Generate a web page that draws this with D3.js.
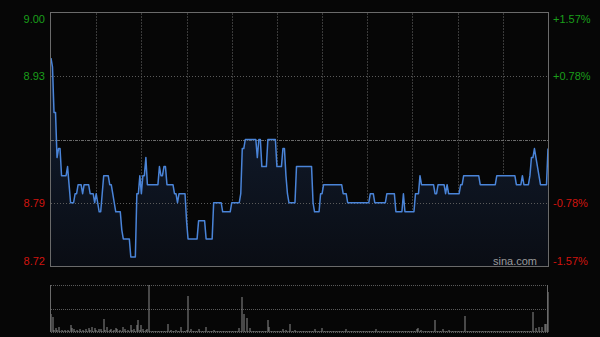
<!DOCTYPE html>
<html>
<head>
<meta charset="utf-8">
<script src="https://cdn.jsdelivr.net/npm/d3@7"></script>
<style>
	html, body { margin: 0; padding: 0; background: #060606; }
	svg { display: block; }
	text { font-family: Arial, "Liberation Sans", sans-serif; font-size: 11px; }
</style>
</head>
<body>
<svg id="chart" width="600" height="337"></svg>
<script>
// minute prices, 9:30 - 16:00 (331 points)
var prices = [
	8.95, 8.94, 8.89, 8.89, 8.84, 8.85, 8.85, 8.82, 8.82, 8.82,
	8.82, 8.83, 8.81, 8.79, 8.79, 8.79, 8.80, 8.80, 8.81, 8.81,
	8.81, 8.80, 8.81, 8.81, 8.81, 8.81, 8.80, 8.80, 8.80, 8.79,
	8.80, 8.79, 8.78, 8.78, 8.80, 8.82, 8.82, 8.82, 8.82, 8.81,
	8.81, 8.80, 8.79, 8.78, 8.78, 8.78, 8.78, 8.76, 8.75, 8.75,
	8.75, 8.75, 8.75, 8.73, 8.73, 8.73, 8.73, 8.80, 8.80, 8.82,
	8.80, 8.82, 8.82, 8.84, 8.81, 8.81, 8.81, 8.81, 8.81, 8.81,
	8.81, 8.81, 8.83, 8.82, 8.82, 8.83, 8.83, 8.81, 8.81, 8.81,
	8.81, 8.81, 8.80, 8.80, 8.79, 8.80, 8.80, 8.80, 8.80, 8.80,
	8.77, 8.75, 8.75, 8.75, 8.75, 8.75, 8.75, 8.75, 8.77, 8.77,
	8.77, 8.77, 8.77, 8.75, 8.75, 8.75, 8.75, 8.75, 8.79, 8.79,
	8.79, 8.79, 8.79, 8.79, 8.78, 8.78, 8.78, 8.78, 8.78, 8.78,
	8.79, 8.79, 8.79, 8.79, 8.79, 8.79, 8.80, 8.85, 8.85, 8.86,
	8.86, 8.86, 8.86, 8.86, 8.86, 8.86, 8.86, 8.84, 8.86, 8.86,
	8.83, 8.83, 8.83, 8.83, 8.86, 8.86, 8.86, 8.86, 8.86, 8.86,
	8.83, 8.83, 8.83, 8.83, 8.85, 8.85, 8.82, 8.80, 8.79, 8.79,
	8.79, 8.79, 8.79, 8.83, 8.83, 8.83, 8.83, 8.83, 8.83, 8.83,
	8.83, 8.83, 8.83, 8.83, 8.79, 8.78, 8.78, 8.78, 8.78, 8.80,
	8.80, 8.81, 8.81, 8.81, 8.81, 8.81, 8.81, 8.81, 8.81, 8.81,
	8.81, 8.81, 8.81, 8.81, 8.80, 8.80, 8.80, 8.79, 8.79, 8.79,
	8.79, 8.79, 8.79, 8.79, 8.79, 8.79, 8.79, 8.79, 8.79, 8.79,
	8.79, 8.79, 8.80, 8.80, 8.80, 8.79, 8.79, 8.79, 8.79, 8.79,
	8.79, 8.79, 8.79, 8.80, 8.80, 8.80, 8.80, 8.80, 8.80, 8.78,
	8.78, 8.78, 8.78, 8.78, 8.80, 8.78, 8.78, 8.78, 8.78, 8.78,
	8.78, 8.78, 8.80, 8.80, 8.80, 8.82, 8.81, 8.81, 8.81, 8.81,
	8.81, 8.81, 8.81, 8.81, 8.81, 8.80, 8.80, 8.81, 8.81, 8.81,
	8.81, 8.81, 8.80, 8.81, 8.80, 8.80, 8.80, 8.80, 8.80, 8.80,
	8.80, 8.80, 8.81, 8.81, 8.82, 8.82, 8.82, 8.82, 8.82, 8.82,
	8.82, 8.82, 8.82, 8.82, 8.82, 8.81, 8.81, 8.81, 8.81, 8.81,
	8.81, 8.81, 8.81, 8.81, 8.81, 8.81, 8.82, 8.82, 8.82, 8.82,
	8.82, 8.82, 8.82, 8.82, 8.82, 8.82, 8.82, 8.82, 8.82, 8.81,
	8.81, 8.81, 8.81, 8.82, 8.81, 8.81, 8.81, 8.81, 8.82, 8.84,
	8.84, 8.85, 8.84, 8.83, 8.82, 8.81, 8.81, 8.81, 8.81, 8.81,
	8.85
];

// minute volumes (relative)
var volumes = [
	18, 15, 2, 4, 2, 5, 1, 2, 1, 2,
	1, 2, 1, 7, 4, 3, 1, 2, 1, 3,
	1, 2, 1, 3, 1, 4, 2, 5, 1, 4,
	2, 1, 3, 3, 1, 13, 2, 5, 1, 2,
	3, 1, 2, 4, 3, 1, 2, 1, 5, 3,
	1, 2, 1, 7, 2, 3, 1, 7, 12, 2,
	7, 3, 1, 2, 3, 47, 1, 1, 1, 1,
	1, 1, 1, 1, 1, 1, 1, 1, 8, 1,
	2, 1, 1, 2, 1, 1, 5, 1, 1, 1,
	2, 36, 1, 3, 1, 1, 1, 1, 3, 1,
	1, 1, 1, 5, 1, 1, 1, 1, 2, 1,
	1, 1, 1, 1, 1, 1, 1, 1, 1, 1,
	1, 1, 1, 1, 1, 4, 1, 35, 18, 1,
	14, 1, 4, 1, 1, 1, 1, 1, 1, 1,
	1, 1, 1, 1, 12, 5, 1, 1, 1, 1,
	1, 1, 1, 1, 3, 1, 2, 1, 1, 8,
	1, 1, 2, 1, 1, 1, 1, 1, 1, 1,
	1, 1, 1, 1, 1, 3, 1, 1, 1, 1,
	4, 1, 1, 1, 1, 1, 1, 1, 1, 1,
	1, 1, 1, 1, 1, 1, 3, 1, 1, 1,
	1, 1, 1, 1, 1, 1, 1, 1, 1, 1,
	1, 1, 1, 1, 1, 1, 3, 1, 1, 1,
	1, 1, 1, 1, 1, 1, 1, 1, 1, 1,
	1, 1, 1, 1, 1, 1, 1, 1, 1, 1,
	1, 1, 1, 3, 4, 1, 2, 1, 1, 1,
	1, 1, 1, 1, 1, 12, 1, 1, 1, 1,
	3, 1, 1, 1, 2, 1, 1, 1, 1, 1,
	1, 1, 1, 1, 1, 16, 1, 1, 1, 1,
	1, 1, 1, 1, 1, 1, 1, 1, 1, 1,
	1, 1, 1, 1, 1, 1, 1, 1, 1, 1,
	1, 1, 1, 1, 1, 1, 1, 1, 1, 1,
	1, 1, 1, 1, 1, 1, 1, 1, 1, 1,
	20, 1, 4, 1, 5, 1, 5, 1, 8, 8,
	40
];

var prevClose = 8.86;
var priceTicks = [9.00, 8.93, 8.79, 8.72];
var priceLabels = ["9.00", "8.93", "8.79", "8.72"];
var pctLabels = ["+1.57%", "+0.78%", "-0.78%", "-1.57%"];
var halfHours = [1, 2, 3, 4, 5, 6, 7, 8, 9, 10];

drawChart();

function drawChart() {
	var svg = d3.select("#chart");
	var left = 51, right = 548, top = 13, bottom = 266;
	var volTop = 285, volBottom = 332;

	var x = d3.scaleLinear().domain([0, prices.length - 1]).range([left, right]);
	var y = d3.scaleLinear().domain([8.72, 9.00]).range([bottom, top]);
	var yv = d3.scaleLinear().domain([0, d3.max(volumes)]).range([volBottom, volTop]);

	// fill gradient under the line
	var grad = svg.append("defs").append("linearGradient")
		.attr("id", "area")
		.attr("gradientUnits", "userSpaceOnUse")
		.attr("x1", 0).attr("y1", top).attr("x2", 0).attr("y2", bottom);
	grad.append("stop").attr("offset", "0").attr("stop-color", "#15233a");
	grad.append("stop").attr("offset", "1").attr("stop-color", "#0a0d14");

	// vertical grid
	svg.append("g").selectAll("line")
		.data(halfHours)
		.enter()
		.append("line")
			.attr("x1", function(d) {return Math.round(x(d * 30)) + 0.5})
			.attr("x2", function(d) {return Math.round(x(d * 30)) + 0.5})
			.attr("y1", top)
			.attr("y2", bottom)
			.attr("stroke", "#3a3a3a")
			.attr("stroke-dasharray", "2,1");

	// area and line
	var area = d3.area()
		.x(function(d, i) {return x(i)})
		.y0(bottom)
		.y1(function(d) {return y(d)});
	svg.append("path")
		.datum(prices)
		.attr("d", area)
		.attr("fill", "url(#area)");

	// horizontal grid
	svg.append("g").selectAll("line")
		.data([8.93, 8.79])
		.enter()
		.append("line")
			.attr("x1", left)
			.attr("x2", right)
			.attr("y1", function(d) {return Math.round(y(d)) + 0.5})
			.attr("y2", function(d) {return Math.round(y(d)) + 0.5})
			.attr("stroke", "#5a5a5a")
			.attr("stroke-dasharray", "1,2");
	svg.append("line")
		.attr("x1", left)
		.attr("x2", right)
		.attr("y1", Math.round(y(prevClose)) + 0.5)
		.attr("y2", Math.round(y(prevClose)) + 0.5)
		.attr("stroke", "#6a6a6a")
		.attr("stroke-dasharray", "3,1,1,1");

	var line = d3.line()
		.x(function(d, i) {return x(i)})
		.y(function(d) {return y(d)});
	svg.append("path")
		.datum(prices)
		.attr("d", line)
		.attr("fill", "none")
		.attr("stroke", "#4a84d8")
		.attr("stroke-width", 1.5)
		.attr("stroke-linejoin", "round");

	// frame
	svg.append("rect")
		.attr("x", left - 0.5)
		.attr("y", top - 0.5)
		.attr("width", right - left + 1)
		.attr("height", bottom - top + 1)
		.attr("fill", "none")
		.attr("stroke", "#6a6a6a");

	// price axis on the left
	var leftAxis = svg.append("g")
		.attr("transform", "translate(" + (left - 3) + ",0)")
		.call(d3.axisLeft(y).tickValues(priceTicks).tickSize(0)
			.tickFormat(function(d, i) {return priceLabels[i]}));
	styleAxis(leftAxis, y);

	// percent axis on the right
	var rightAxis = svg.append("g")
		.attr("transform", "translate(" + (right + 2) + ",0)")
		.call(d3.axisRight(y).tickValues(priceTicks).tickSize(0)
			.tickFormat(function(d, i) {return pctLabels[i]}));
	styleAxis(rightAxis, y);

	svg.append("text")
		.attr("x", 537)
		.attr("y", 265)
		.attr("text-anchor", "end")
		.attr("fill", "#9a9a9a")
		.style("font-size", "11px")
		.text("sina.com");

	// volume panel
	svg.append("g").selectAll("line")
		.data([volTop, (volTop + volBottom) / 2, volBottom])
		.enter()
		.append("line")
			.attr("x1", left)
			.attr("x2", right)
			.attr("y1", function(d) {return Math.round(d) + 0.5})
			.attr("y2", function(d) {return Math.round(d) + 0.5})
			.attr("stroke", "#5a5a5a")
			.attr("stroke-dasharray", "1,1");

	svg.append("g").selectAll("rect")
		.data(volumes)
		.enter()
		.append("rect")
			.attr("x", function(d, i) {return Math.round(x(i)) - 0.5})
			.attr("width", 1)
			.attr("y", function(d) {return yv(d)})
			.attr("height", function(d) {return volBottom - yv(d)})
			.attr("fill", "#8a8a8a");

	svg.append("g").selectAll("line")
		.data([left, right])
		.enter()
		.append("line")
			.attr("x1", function(d) {return d - 0.5})
			.attr("x2", function(d) {return d - 0.5})
			.attr("y1", volTop)
			.attr("y2", volBottom)
			.attr("stroke", "#6a6a6a");
}

// colour the labels and keep the outer ones inside the frame
function styleAxis(g, y) {
	g.select(".domain").remove();
	g.selectAll("text")
		.attr("fill", function(d) {return d > 8.86 ? "#1a9e1a" : "#d0140e"})
		.attr("dy", function(d) {
			if (d == 9.00) return "0.85em";
			if (d == 8.72) return "-0.15em";
			return "0.32em";
		})
		.style("font-family", "Arial, 'Liberation Sans', sans-serif")
		.style("font-size", "11px");
}
</script>
</body>
</html>
